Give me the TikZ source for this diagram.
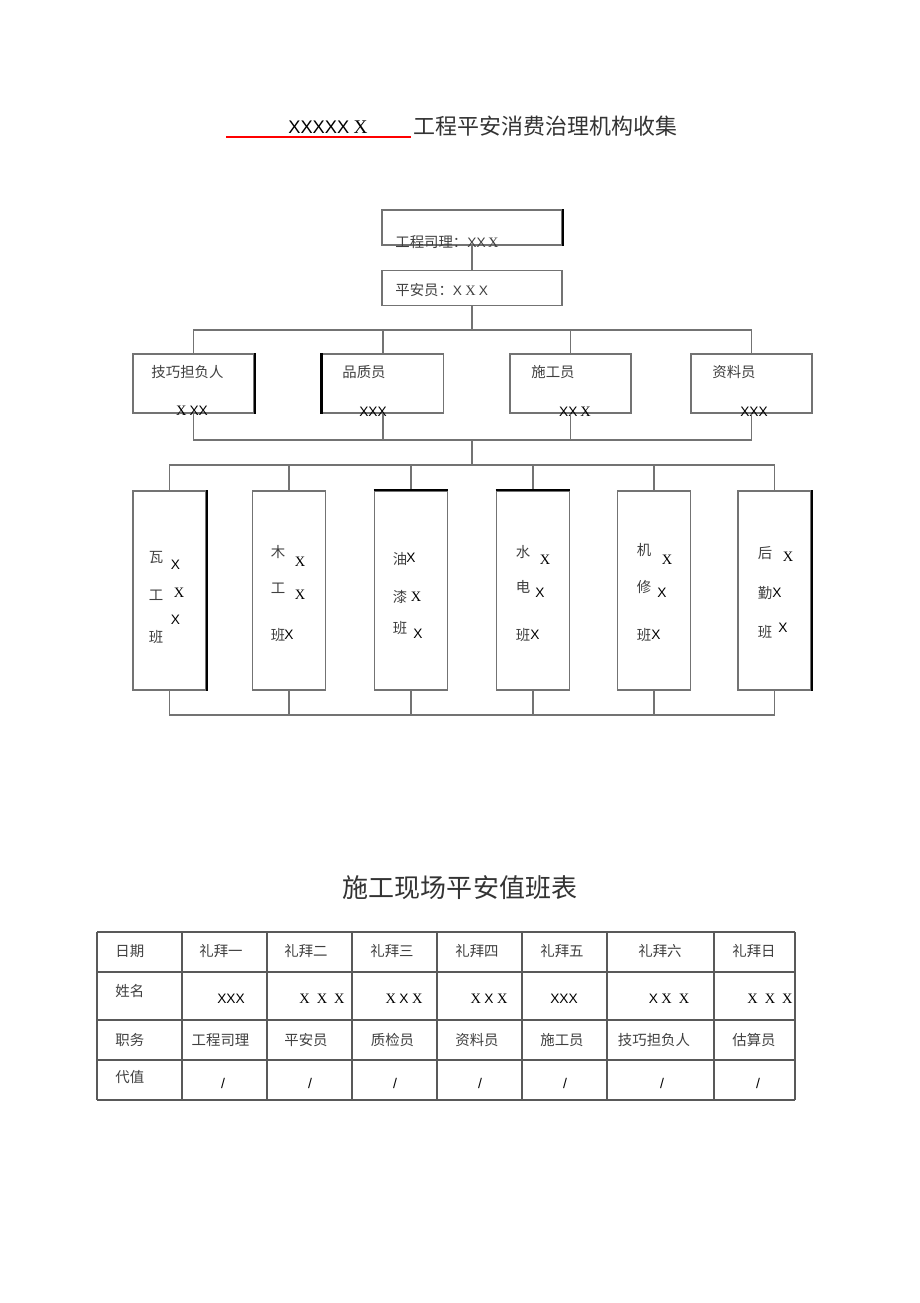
\documentclass[tikz,border=0pt]{standalone}
\usepackage{fontspec}
\setmainfont{Liberation Serif}
\setsansfont{Liberation Sans}
\newfontfamily\cjk{Noto Sans CJK SC}
\usetikzlibrary{positioning}
\newcommand\xsans{{\sffamily\fontsize{7.8}{8}\selectfont X}}
\newcommand\xserif{{\rmfamily\fontsize{8.2}{8}\selectfont X}}

\begin{document}
\begin{tikzpicture}[x=0.02cm, y=-0.02cm,
  box/.style={draw=black!55, line width=1pt, fill=white, inner sep=0pt},
  head/.style={box, minimum width=3.6cm, minimum height=0.7cm},
  post/.style={box, minimum width=2.42cm, minimum height=1.18cm},
  crew/.style={box, minimum width=1.46cm, minimum height=3.98cm},
  link/.style={draw=black!55, line width=1pt},
  heavy/.style={draw=black, line width=1.4pt},
  rule/.style={draw=black!65, line width=0.8pt},
  zh/.style={font=\cjk\fontsize{8.2}{10}\selectfont, text=black!75, inner sep=0pt}]
  \path[fill=white] (0,0) rectangle (920,1303);
  \useasboundingbox (0,0) rectangle (920,1303);

  % title
  \node[inner sep=0pt] (code) at (328,127) {{\sffamily\fontsize{10.4}{12}\selectfont XXXXX}\ {\rmfamily\fontsize{11}{12}\selectfont X}};
  \draw[red, line width=1.1pt] (226,137) -- (411,137);
  \node[zh, font=\cjk\fontsize{12.5}{14}\selectfont, text=black!80] (title) at (545.5,126) {工程平安消费治理机构收集};

  % chart
  \node[head] (pm) at (472,227.5) {};
  \node[zh, anchor=west] (pmtxt) at (395,242) {工程司理：\xsans\xsans\,\xserif};
  \node[head] (sa) at (472,288) {};
  \node[zh, anchor=west] (satxt) at (395,290) {平安员：\xsans\ \xserif\ \xsans};

  \foreach \nm/\x in {tech/193.5, qual/383, cons/570.5, clerk/751.5}
    \node[post] (\nm) at (\x,383.5) {};
  \node[zh] (techtxt) at (187.5,372) {技巧担负人};
  \node[zh] (qualtxt) at (364,372) {品质员};
  \node[zh] (constxt) at (553,372) {施工员};
  \node[zh] (clerktxt) at (734,372) {资料员};
  \node[inner sep=0pt] (technm) at (192,411) {\xserif\,\xsans\xsans};
  \node[inner sep=0pt] (qualnm) at (373,412) {\xsans\xsans\xsans};
  \node[inner sep=0pt] (consnm) at (575,412) {\xsans\xsans\,\xserif};
  \node[inner sep=0pt] (clerknm) at (754,412) {\xsans\xsans\xsans};

  \foreach \nm/\x in {c1/169.5, c2/289, c3/411, c4/533, c5/654, c6/774.5}
    \node[crew] (\nm) at (\x,590.5) {};
  \foreach \x/\y/\t [count=\i] in {156/557/瓦, 156/595/工, 156/637/班,
      278/552/木, 278/588/工, 278/635/班, 400/559/油, 400/597/漆, 400/628/班,
      523/552/水, 523/587/电, 523/635/班, 644/550/机, 644/587/修, 644/635/班,
      765/553/后, 765/593/勤, 765/632/班}
    \node[zh] (ch\i) at (\x,\y) {\t};
  \foreach \x/\y [count=\i] in {175.5/565, 175.5/620, 289/635, 411/558, 418/634,
      540/593, 535/635, 662/593, 656/635, 777/593, 783/628}
    \node[inner sep=0pt] (xs\i) at (\x,\y) {\xsans};
  \foreach \x/\y [count=\i] in {179/593, 300/562, 300/595, 416/597, 545/560,
      667/560, 788/557}
    \node[inner sep=0pt] (xr\i) at (\x,\y) {\xserif};

  \coordinate (busA) at (472,330);
  \coordinate (busB) at (472,440);
  \coordinate (busC) at (472,465);
  \coordinate (busD) at (472,715);
  \draw[link] (pm) -- (sa);
  \draw[link] (sa) -- (busA);
  \draw[link] (tech.north) |- (busA) -| (clerk.north);
  \draw[link] (tech.south) |- (busB) -| (clerk.south);
  \foreach \nm in {qual, cons} {
    \draw[link] (\nm.north) -- (\nm.north |- busA);
    \draw[link] (\nm.south) -- (\nm.south |- busB);
  }
  \draw[link] (busB) -- (busC);
  \draw[link] (c1.north) |- (busC) -| (c6.north);
  \draw[link] (c1.south) |- (busD) -| (c6.south);
  \foreach \nm in {c2, c3, c4, c5} {
    \draw[link] (\nm.north) -- (\nm.north |- busC);
    \draw[link] (\nm.south) -- (\nm.south |- busD);
  }
  \draw[heavy] (pm.north east) -- (pm.south east);
  \draw[heavy] (tech.north east) -- (tech.south east);
  \draw[heavy] (qual.north west) -- (qual.south west);
  \draw[heavy] (c1.north east) -- (c1.south east);
  \draw[heavy] (c3.north west) -- (c3.north east);
  \draw[heavy] (c4.north west) -- (c4.north east);
  \draw[heavy] (c6.north east) -- (c6.south east);

  % duty table
  \node[zh, font=\cjk\fontsize{14.8}{16}\selectfont, text=black!80] (tabtitle) at (460,888) {施工现场平安值班表};
  \foreach \y in {932, 972, 1020, 1060, 1100}
    \draw[rule] (97,\y) -- (795,\y);
  \foreach \x in {97, 182, 267, 352, 437, 522, 607, 714, 795}
    \draw[rule] (\x,932) -- (\x,1100);
  \foreach \y/\t [count=\i] in {951/日期, 991/姓名, 1040/职务, 1077/代值}
    \node[zh, anchor=west] (row\i) at (115,\y) {\t};
  \foreach \x/\t [count=\i] in {221/礼拜一, 306/礼拜二, 392/礼拜三, 477/礼拜四,
      562/礼拜五, 660/礼拜六, 754/礼拜日}
    \node[zh] (day\i) at (\x,951) {\t};
  \foreach \x/\t [count=\i] in {220.5/工程司理, 306/平安员, 392.5/质检员, 477/资料员,
      562/施工员, 654/技巧担负人, 754/估算员}
    \node[zh] (job\i) at (\x,1040) {\t};
  \node[inner sep=0pt] (nm1) at (231,999) {\xsans\xsans\xsans};
  \node[inner sep=0pt] (nm2) at (322,999) {\xserif\hspace{4pt}\xserif\hspace{4pt}\xserif};
  \node[inner sep=0pt] (nm3) at (404,999) {\xserif\hspace{2pt}\xsans\hspace{2pt}\xserif};
  \node[inner sep=0pt] (nm4) at (489,999) {\xserif\hspace{2pt}\xsans\hspace{2pt}\xserif};
  \node[inner sep=0pt] (nm5) at (564,999) {\xsans\xsans\xsans};
  \node[inner sep=0pt] (nm6) at (669,999) {\xsans\hspace{2pt}\xserif\hspace{4pt}\xserif};
  \node[inner sep=0pt] (nm7) at (770,999) {\xserif\hspace{4pt}\xserif\hspace{4pt}\xserif};
  \foreach \x [count=\i] in {223, 310, 395, 480, 565, 662, 758}
    \node[inner sep=0pt, font=\sffamily\fontsize{8}{8}\selectfont] (sub\i) at (\x,1083) {/};
\end{tikzpicture}
\end{document}
